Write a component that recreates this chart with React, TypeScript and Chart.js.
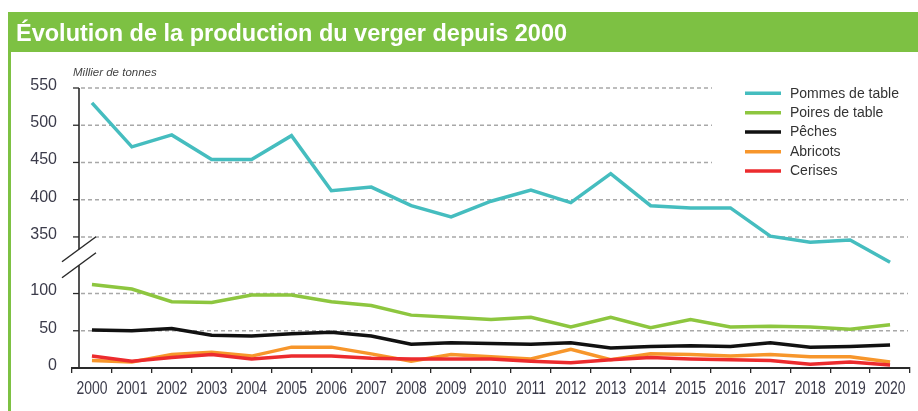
import React, { useEffect, useRef } from 'react';
import { Chart, registerables } from 'chart.js';

Chart.register(...registerables);

const TITLE = 'Évolution de la production du verger depuis 2000';
const UNIT = 'Millier de tonnes';

const years = ['2000', '2001', '2002', '2003', '2004', '2005', '2006', '2007', '2008', '2009', '2010',
  '2011', '2012', '2013', '2014', '2015', '2016', '2017', '2018', '2019', '2020'];

const pommes = [530, 471, 487, 454, 454, 486, 412, 417, 392, 377, 398, 413, 396, 435, 392, 389, 389, 351, 343, 346, 316];
const poires = [112, 106, 89, 88, 98, 98, 89, 84, 71, 68, 65, 68, 55, 68, 54, 65, 55, 56, 55, 52, 58];
const peches = [51, 50, 53, 44, 43, 46, 48, 43, 32, 34, 33, 32, 34, 27, 29, 30, 29, 34, 28, 29, 31];
const abricots = [10, 8, 18, 21, 16, 28, 28, 19, 9, 18, 15, 12, 25, 11, 19, 18, 16, 18, 15, 15, 8];
const cerises = [16, 9, 14, 18, 12, 16, 16, 13, 12, 12, 12, 9, 7, 11, 14, 12, 11, 10, 5, 8, 4];

const yTickValues = [0, 50, 100, 350, 400, 450, 500, 550];

// axis break: values of the upper section are shifted down by this amount
const BREAK_OFFSET = 174;
const BREAK_THRESHOLD = 200;
const mapY = (v: number) => (v >= BREAK_THRESHOLD ? v - BREAK_OFFSET : v);

const seriesNames = ['Pommes de table', 'Poires de table', 'Pêches', 'Abricots', 'Cerises'];
const seriesColors = ['#45BDBF', '#8DC63F', '#111111', '#F7962B', '#EC2B2E'];

const GREEN = '#7DC143';
const TEXT = '#3b3b4a';
const AXIS_X = 79;

const decor = {
  id: 'decor',
  beforeDraw(chart: any) {
    const { ctx, width, height } = chart;
    ctx.save();
    ctx.fillStyle = '#ffffff';
    ctx.fillRect(0, 0, width, height);
    ctx.fillStyle = GREEN;
    ctx.fillRect(8, 12, width - 8, 40);
    ctx.fillRect(8, 52, 3, height - 52);
    ctx.fillStyle = '#ffffff';
    ctx.font = 'bold 23.5px "Liberation Sans", Arial, sans-serif';
    ctx.textBaseline = 'alphabetic';
    ctx.textAlign = 'left';
    ctx.fillText(TITLE, 16, 41);
    ctx.restore();
  },
  beforeDatasetsDraw(chart: any) {
    const { ctx, chartArea } = chart;
    const y = chart.scales.y;
    ctx.save();
    ctx.setLineDash([4, 3]);
    ctx.strokeStyle = '#a8a8a8';
    ctx.lineWidth = 1.5;
    yTickValues.forEach((v) => {
      if (v === 0) return;
      const py = y.getPixelForValue(mapY(v));
      const xEnd = v >= 450 ? 712 : chartArea.right - 2;
      ctx.beginPath();
      ctx.moveTo(AXIS_X + 2, py);
      ctx.lineTo(xEnd, py);
      ctx.stroke();
    });
    ctx.restore();
  },
  afterDraw(chart: any) {
    const { ctx } = chart;
    const y = chart.scales.y;
    const x = chart.scales.x;
    ctx.save();
    const yTop = y.getPixelForValue(mapY(550));
    const yBottom = y.getPixelForValue(0);
    const mid = y.getPixelForValue((100 + mapY(350)) / 2);
    const c1 = mid - 16;
    const c2 = mid;
    // y axis line with gap
    ctx.strokeStyle = '#2a2a2a';
    ctx.lineWidth = 1.6;
    ctx.beginPath();
    ctx.moveTo(AXIS_X, yTop);
    ctx.lineTo(AXIS_X, c1);
    ctx.moveTo(AXIS_X, c2);
    ctx.lineTo(AXIS_X, yBottom);
    ctx.stroke();
    // ticks
    ctx.lineWidth = 1.3;
    yTickValues.forEach((v) => {
      const py = y.getPixelForValue(mapY(v));
      ctx.beginPath();
      ctx.moveTo(AXIS_X - 6, py);
      ctx.lineTo(AXIS_X, py);
      ctx.stroke();
    });
    // break marks
    ctx.lineWidth = 1.5;
    [c1, c2].forEach((cy) => {
      ctx.beginPath();
      ctx.moveTo(AXIS_X - 17, cy + 12.5);
      ctx.lineTo(AXIS_X + 17, cy - 12.5);
      ctx.stroke();
    });
    // y tick labels
    ctx.fillStyle = TEXT;
    ctx.font = '16px "Liberation Sans", Arial, sans-serif';
    ctx.textAlign = 'right';
    ctx.textBaseline = 'middle';
    yTickValues.forEach((v) => {
      const py = y.getPixelForValue(mapY(v));
      ctx.fillText(String(v), 57, py - 2.5);
    });
    // x tick labels (condensed)
    ctx.font = '18.5px "Liberation Sans", Arial, sans-serif';
    ctx.textAlign = 'center';
    ctx.textBaseline = 'alphabetic';
    years.forEach((lab, i) => {
      const px = x.getPixelForValue(i);
      ctx.save();
      ctx.translate(px, 393.5);
      ctx.scale(0.755, 1);
      ctx.fillText(lab, 0, 0);
      ctx.restore();
    });
    // unit
    ctx.font = 'italic 11.5px "Liberation Sans", Arial, sans-serif';
    ctx.textAlign = 'left';
    ctx.textBaseline = 'alphabetic';
    ctx.fillStyle = '#444444';
    ctx.fillText(UNIT, 73, 75.5);
    // legend
    const rows = [93.3, 112.7, 132, 151.7, 171];
    seriesNames.forEach((name, i) => {
      const ry = rows[i];
      ctx.strokeStyle = seriesColors[i];
      ctx.lineWidth = 3.5;
      ctx.setLineDash([]);
      ctx.beginPath();
      ctx.moveTo(745, ry);
      ctx.lineTo(781, ry);
      ctx.stroke();
      ctx.fillStyle = '#333333';
      ctx.font = '14px "Liberation Sans", Arial, sans-serif';
      ctx.textBaseline = 'middle';
      ctx.fillText(name, 790, ry + 0.5);
    });
    ctx.restore();
  },
};

export default function App() {
  const ref = useRef<HTMLCanvasElement | null>(null);
  useEffect(() => {
    if (!ref.current) return;
    const all = [pommes, poires, peches, abricots, cerises];
    const orders = [0, 1, 2, 4, 3];
    const chart = new Chart(ref.current, {
      type: 'line',
      data: {
        labels: years,
        datasets: all.map((arr, i) => ({
          label: seriesNames[i],
          data: arr.map(mapY),
          borderColor: seriesColors[i],
          backgroundColor: seriesColors[i],
          borderWidth: 3.5,
          pointRadius: 0,
          tension: 0,
          fill: false,
          clip: false as any,
          order: orders[i],
        })),
      },
      options: {
        responsive: false,
        animation: false,
        devicePixelRatio: 1,
        layout: { padding: { left: 72, right: 8, top: 88, bottom: 0 } },
        plugins: {
          legend: { display: false },
          tooltip: { enabled: false },
        },
        scales: {
          x: {
            type: 'category',
            offset: true,
            afterFit: (s: any) => { s.height = 43; },
            grid: {
              offset: true,
              drawOnChartArea: false,
              drawTicks: true,
              tickLength: 5,
              color: '#2a2a2a',
              lineWidth: 1.3,
            },
            border: { display: true, color: '#2a2a2a', width: 2 },
            ticks: {
              display: false,
              autoSkip: false,
              maxRotation: 0,
            },
          },
          y: {
            display: false,
            min: 0,
            max: mapY(550),
          },
        },
      },
      plugins: [decor],
    });
    return () => chart.destroy();
  }, []);
  return (
    <div style={{ position: 'absolute', left: 0, top: 0, width: 918, height: 411 }}>
      <canvas ref={ref} width={918} height={411} style={{ display: 'block', width: 918, height: 411 }} />
    </div>
  );
}
